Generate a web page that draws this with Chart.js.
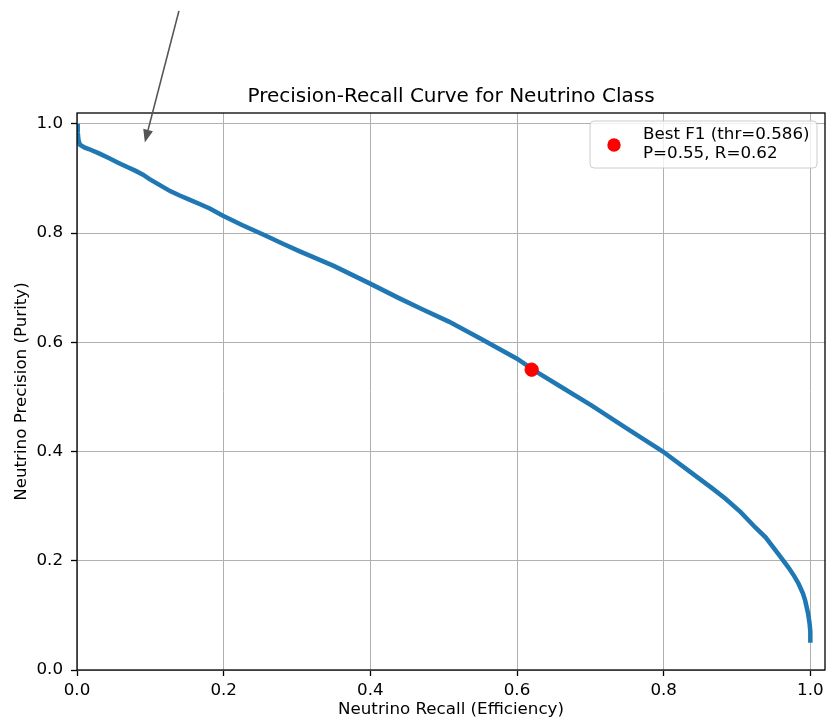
<!DOCTYPE html>
<html>
<head>
<meta charset="utf-8">
<title>Precision-Recall Curve</title>
<script src="https://cdn.jsdelivr.net/npm/chart.js@4.4.0/dist/chart.umd.min.js"></script>
<style>
  html, body { margin: 0; padding: 0; background: #fff; }
  #wrap { width: 826px; height: 720px; }
</style>
</head>
<body>
<div id="wrap"><canvas id="prChart" width="826" height="720"></canvas></div>
<script>
// curve values (recall = x, precision = y)
const recall = [
  0.000, 0.001, 0.002, 0.004, 0.010, 0.016, 0.030, 0.044, 0.056, 0.067,
  0.080, 0.090, 0.099, 0.113, 0.127, 0.140, 0.154, 0.168, 0.181, 0.199,
  0.225, 0.256, 0.280, 0.303, 0.350, 0.399, 0.439, 0.470, 0.507, 0.550,
  0.600, 0.619, 0.630, 0.657, 0.702, 0.748, 0.799, 0.838, 0.865, 0.884,
  0.905, 0.925, 0.939, 0.956, 0.970, 0.978, 0.984, 0.990, 0.993, 0.997,
  0.999, 1.000, 1.000
];
const precision = [
  1.000, 0.985, 0.970, 0.962, 0.957, 0.954, 0.946, 0.937, 0.929, 0.922,
  0.914, 0.907, 0.899, 0.888, 0.877, 0.869, 0.861, 0.853, 0.845, 0.832,
  0.815, 0.796, 0.781, 0.767, 0.740, 0.708, 0.681, 0.661, 0.638, 0.607,
  0.570, 0.553, 0.543, 0.521, 0.484, 0.444, 0.400, 0.361, 0.334, 0.314,
  0.289, 0.261, 0.243, 0.213, 0.188, 0.172, 0.158, 0.140, 0.127, 0.103,
  0.085, 0.070, 0.050
];

// best F1 point
const bestRecall = [0.62];
const bestPrecision = [0.55];
const legendLines = ["Best F1 (thr=0.586)", "P=0.55, R=0.62"];

// tick labels
const xTicks = [0.0, 0.2, 0.4, 0.6, 0.8, 1.0];
const yTicks = [0.0, 0.2, 0.4, 0.6, 0.8, 1.0];

// annotation arrow (data coords, tail goes above the axes)
const arrowTail = [0.139, 1.207];
const arrowTip = [0.0925, 0.966];

const FONT = "'DejaVu Sans', sans-serif";
Chart.defaults.font.family = FONT;
Chart.defaults.color = "#000";

// spines on top of the curve
const framePlugin = {
  id: "frame",
  afterDatasetsDraw(chart) {
    const { ctx, chartArea: a } = chart;
    ctx.save();
    ctx.strokeStyle = "#000";
    ctx.lineWidth = 1.3;
    ctx.strokeRect(a.left, a.top, a.right - a.left, a.bottom - a.top);
    ctx.restore();
  },
};

// legend box in the upper right
const legendPlugin = {
  id: "bestLegend",
  afterDraw(chart) {
    const { ctx, chartArea: a } = chart;
    const w = 227, h = 47;
    const x = a.right - 8 - w;
    const y = a.top + 8;
    ctx.save();
    ctx.beginPath();
    ctx.roundRect(x, y, w, h, 4);
    ctx.fillStyle = "rgba(255,255,255,0.8)";
    ctx.fill();
    ctx.strokeStyle = "#cccccc";
    ctx.lineWidth = 1;
    ctx.stroke();

    ctx.beginPath();
    ctx.arc(x + 24, y + 24, 6.7, 0, Math.PI * 2);
    ctx.fillStyle = "red";
    ctx.fill();

    ctx.fillStyle = "#000";
    ctx.font = "16.7px " + FONT;
    ctx.textBaseline = "middle";
    ctx.textAlign = "left";
    ctx.fillText(legendLines[0], x + 53, y + 14);
    ctx.fillText(legendLines[1], x + 53, y + 33);
    ctx.restore();
  },
};

// arrow drawn through the scales
const arrowPlugin = {
  id: "arrow",
  afterDraw(chart) {
    const { ctx, scales } = chart;
    const x0 = scales.x.getPixelForValue(arrowTail[0]);
    const y0 = scales.y.getPixelForValue(arrowTail[1]);
    const x1 = scales.x.getPixelForValue(arrowTip[0]);
    const y1 = scales.y.getPixelForValue(arrowTip[1]);
    const ang = Math.atan2(y1 - y0, x1 - x0);
    const headLen = 13, headW = 5;
    const bx = x1 - headLen * Math.cos(ang);
    const by = y1 - headLen * Math.sin(ang);

    ctx.save();
    ctx.strokeStyle = "#555555";
    ctx.fillStyle = "#555555";
    ctx.lineWidth = 1.6;
    ctx.beginPath();
    ctx.moveTo(x0, y0);
    ctx.lineTo(bx, by);
    ctx.stroke();
    ctx.beginPath();
    ctx.moveTo(x1, y1);
    ctx.lineTo(bx + headW * Math.sin(ang), by - headW * Math.cos(ang));
    ctx.lineTo(bx - headW * Math.sin(ang), by + headW * Math.cos(ang));
    ctx.closePath();
    ctx.fill();
    ctx.restore();
  },
};

const curvePoints = recall.map((r, i) => ({ x: r, y: precision[i] }));
const bestPoints = bestRecall.map((r, i) => ({ x: r, y: bestPrecision[i] }));

const ctx = document.getElementById("prChart").getContext("2d");
new Chart(ctx, {
  type: "line",
  data: {
    datasets: [
      {
        label: "Best F1",
        type: "scatter",
        data: bestPoints,
        backgroundColor: "red",
        borderColor: "red",
        pointRadius: 6.7,
        order: 0,
      },
      {
        label: "PR curve",
        data: curvePoints,
        borderColor: "#1f77b4",
        borderWidth: 4.5,
        pointRadius: 0,
        tension: 0,
        fill: false,
        order: 1,
      },
    ],
  },
  options: {
    responsive: false,
    animation: false,
    devicePixelRatio: 1,
    // no auto padding: the plot runs right up to the canvas edge
    layout: { autoPadding: false, padding: { top: 85, right: 1, left: 0, bottom: 0 } },
    plugins: {
      legend: { display: false },
      tooltip: { enabled: false },
      title: {
        display: true,
        fullSize: false,
        text: "Precision-Recall Curve for Neutrino Class",
        font: { size: 20, weight: "normal" },
        color: "#000",
        padding: { top: 0, bottom: 4 },
      },
    },
    scales: {
      x: {
        type: "linear",
        min: 0,
        max: 1.02,
        afterBuildTicks: (s) => { s.ticks = xTicks.map((v) => ({ value: v })); },
        afterFit: (s) => { s.height = 50; s.paddingLeft = 0; s.paddingRight = 0; },
        border: { display: false },
        grid: { color: "#b0b0b0", lineWidth: 1, tickColor: "#000", tickLength: 6, tickWidth: 1.3 },
        ticks: {
          font: { size: 16.7 },
          padding: 5,
          maxRotation: 0,
          callback: (v) => Number(v).toFixed(1),
        },
        title: {
          display: true,
          text: "Neutrino Recall (Efficiency)",
          font: { size: 16.7 },
          padding: { top: 0, bottom: 0 },
        },
      },
      y: {
        type: "linear",
        min: 0,
        max: 1.02,
        afterBuildTicks: (s) => { s.ticks = yTicks.map((v) => ({ value: v })); },
        afterFit: (s) => { s.width = 77; s.paddingTop = 0; s.paddingBottom = 0; },
        border: { display: false },
        grid: { color: "#b0b0b0", lineWidth: 1, tickColor: "#000", tickLength: 6, tickWidth: 1.3 },
        ticks: {
          font: { size: 16.7 },
          padding: 8,
          callback: (v) => Number(v).toFixed(1),
        },
        title: {
          display: true,
          text: "Neutrino Precision (Purity)",
          font: { size: 16.7 },
          padding: { top: 12, bottom: 0 },
        },
      },
    },
  },
  plugins: [framePlugin, legendPlugin, arrowPlugin],
});
</script>
</body>
</html>
